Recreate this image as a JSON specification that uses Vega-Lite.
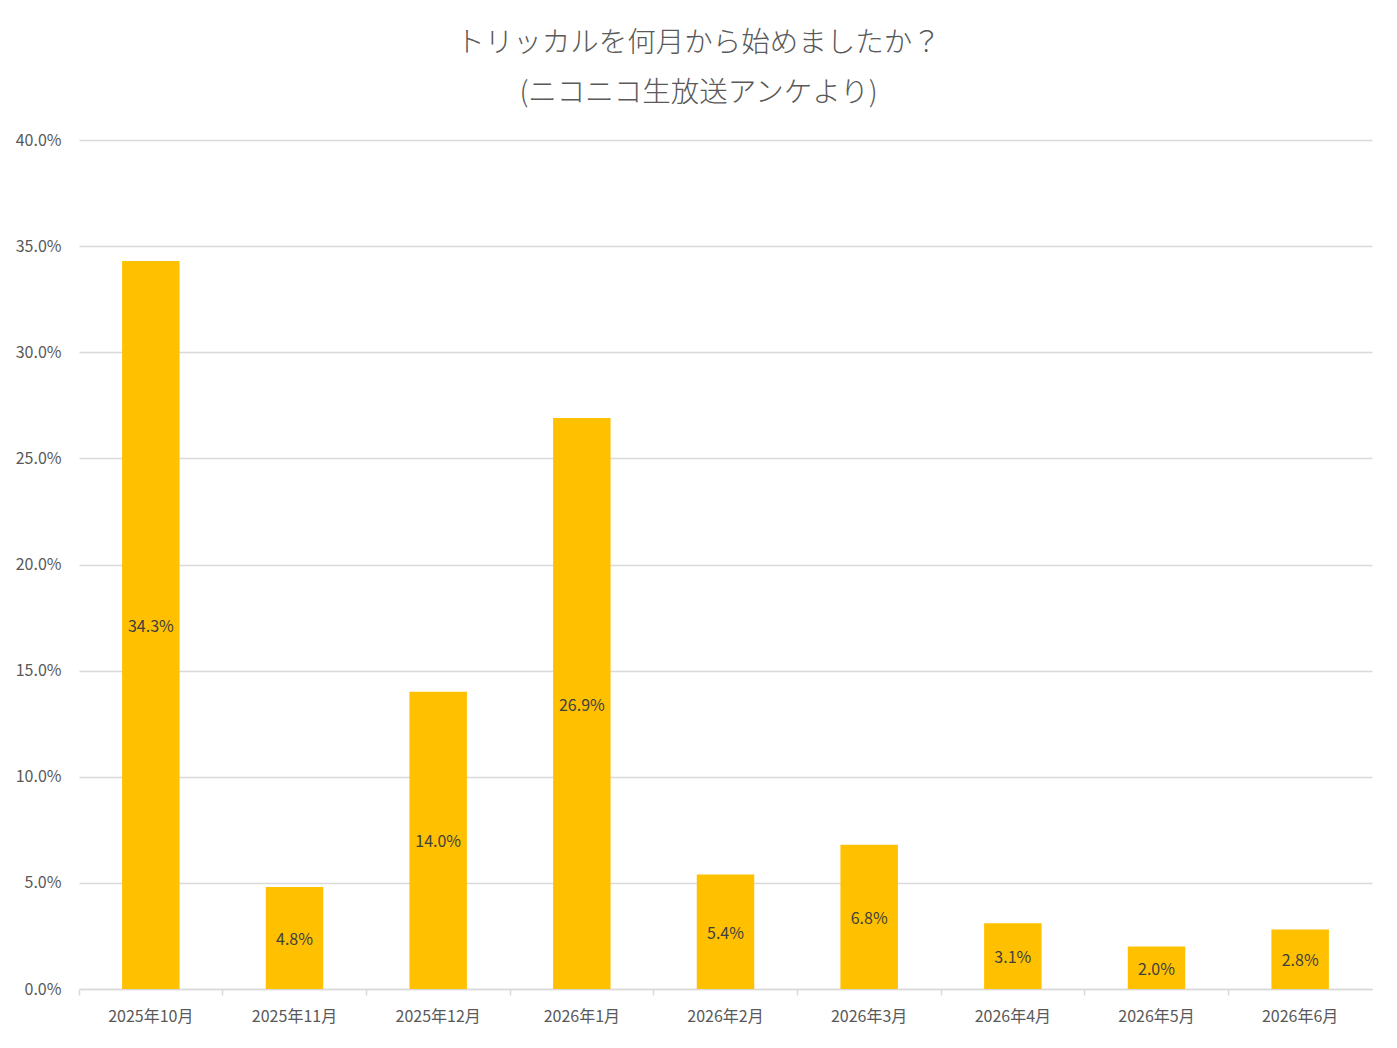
{
  "$schema": "https://vega.github.io/schema/vega-lite/v6.json",
  "autosize": "none",
  "width": 1293,
  "height": 849,
  "padding": {"left": 79, "top": 140, "right": 25, "bottom": 59},
  "background": "white",
  "title": {
    "text": ["トリッカルを何月から始めましたか？", "(ニコニコ生放送アンケより)"],
    "font": "Noto Sans CJK JP",
    "fontSize": 28.5,
    "fontWeight": 300,
    "color": "#595959",
    "lineHeight": 50,
    "offset": 25,
    "dx": -27,
    "anchor": "middle"
  },
  "config": {
    "font": "Noto Sans CJK JP",
    "view": {"stroke": null}
  },
  "data": {
    "values": [
      {"month": "2025年10月", "share": 0.343},
      {"month": "2025年11月", "share": 0.048},
      {"month": "2025年12月", "share": 0.140},
      {"month": "2026年1月", "share": 0.269},
      {"month": "2026年2月", "share": 0.054},
      {"month": "2026年3月", "share": 0.068},
      {"month": "2026年4月", "share": 0.031},
      {"month": "2026年5月", "share": 0.020},
      {"month": "2026年6月", "share": 0.028}
    ]
  },
  "encoding": {
    "x": {
      "field": "month",
      "type": "nominal",
      "sort": null,
      "title": null,
      "scale": {"paddingInner": 0.6, "paddingOuter": 0.3},
      "axis": {
        "labelAngle": 0,
        "labelFontSize": 16,
        "labelColor": "#595959",
        "labelPadding": 13,
        "domainColor": "#d9d9d9",
        "domainWidth": 1.5,
        "tickColor": "#d9d9d9",
        "tickWidth": 1.5,
        "tickSize": 6,
        "bandPosition": -0.75
      }
    }
  },
  "layer": [
    {
      "mark": {"type": "bar", "color": "#ffc000"},
      "encoding": {
        "y": {
          "field": "share",
          "type": "quantitative",
          "title": null,
          "scale": {"domain": [0, 0.4]},
          "axis": {
            "values": [0, 0.05, 0.1, 0.15, 0.2, 0.25, 0.3, 0.35, 0.4],
            "format": ".1%",
            "labelFontSize": 16,
            "labelColor": "#595959",
            "labelPadding": 18,
            "domain": false,
            "ticks": false,
            "gridColor": "#d9d9d9",
            "gridWidth": 1.5
          }
        }
      }
    },
    {
      "transform": [{"calculate": "datum.share / 2", "as": "mid"}],
      "mark": {"type": "text", "fontSize": 16, "color": "#404040", "baseline": "middle", "dy": 2},
      "encoding": {
        "y": {"field": "mid", "type": "quantitative", "scale": {"domain": [0, 0.4]}},
        "text": {"field": "share", "type": "quantitative", "format": ".1%"}
      }
    }
  ]
}
